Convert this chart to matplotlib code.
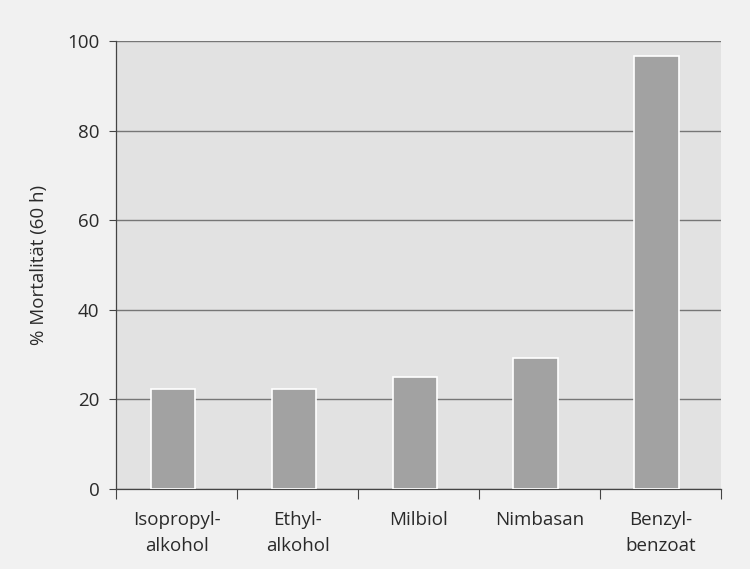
import matplotlib
matplotlib.use("Agg")
import matplotlib.pyplot as plt
import numpy as np

categories = ["Isopropyl-\nalkohol", "Ethyl-\nalkohol", "Milbiol", "Nimbasan", "Benzyl-\nbenzoat"]
values = [22.3, 22.3, 25.0, 29.2, 96.7]
yticks = [0, 20, 40, 60, 80, 100]

plt.rcParams['font.family'] = ['Open Sans', 'DejaVu Sans']

fig = plt.figure(figsize=(7.5, 5.69), dpi=100, facecolor='#f1f1f1')
ax = fig.add_axes([0.155, 0.1406, 0.806, 0.7874])
ax.set_facecolor('#e2e2e2')

x = np.arange(len(categories))
ax.bar(x - 0.03, values, width=0.37, color='#a2a2a2', edgecolor='white', linewidth=1.2, zorder=3)

ax.set_xlim(-0.5, len(categories) - 0.5)
ax.set_ylim(0, 100)
ax.set_yticks(yticks)
ax.set_yticklabels([str(v) for v in yticks], fontsize=13.5, color='#2a2a2a')
ax.yaxis.grid(True, color='#767676', linewidth=1.0, zorder=1)
ax.set_axisbelow(True)

ax.set_xticks(np.arange(len(categories) + 1) - 0.5)
ax.set_xticklabels([])
ax.set_xticks(x, minor=True)
ax.set_xticklabels(categories, minor=True, fontsize=13.5, color='#2a2a2a', linespacing=1.55)
ax.tick_params(axis='x', which='minor', length=0, pad=16)
ax.tick_params(axis='x', which='major', length=7, color='#444444', direction='out')
ax.tick_params(axis='y', length=5, color='#444444', pad=7)

for s in ['top', 'right']:
    ax.spines[s].set_visible(False)
for s in ['left', 'bottom']:
    ax.spines[s].set_color('#444444')
    ax.spines[s].set_linewidth(0.9)

ax.set_ylabel('% Mortalität (60 h)', fontsize=13.5, color='#2a2a2a', labelpad=14)

fig.savefig('out.png', dpi=100, facecolor=fig.get_facecolor())
